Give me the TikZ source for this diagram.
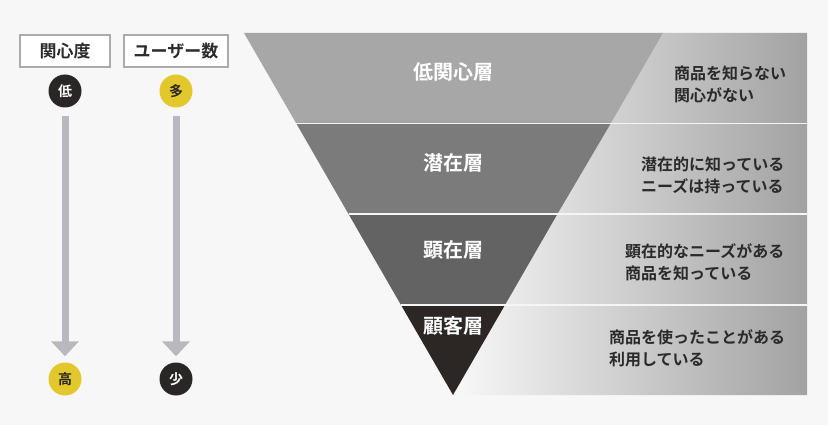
\documentclass[tikz,border=0pt]{standalone}
\usepackage{fontspec}
\setmainfont{Noto Sans CJK JP}[BoldFont = * Bold]
\usetikzlibrary{arrows.meta}
\definecolor{bg}{HTML}{F8F7F7}
\definecolor{bandA}{HTML}{A7A7A7}
\definecolor{bandB}{HTML}{7B7B7B}
\definecolor{bandC}{HTML}{636363}
\definecolor{bandD}{HTML}{2C2624}
\definecolor{gradL}{HTML}{F8F8F8}
\definecolor{gradR}{HTML}{A2A2A2}
\definecolor{ylw}{HTML}{E2C82C}
\definecolor{drk}{HTML}{2A2625}
\definecolor{arr}{HTML}{B8B8BE}
\definecolor{boxln}{HTML}{ABABAB}
\definecolor{txt}{HTML}{2A2A2A}
\tikzset{
  title/.style={font=\bfseries\fontsize{20}{24}\selectfont, text=white, inner sep=0pt},
  desc/.style={font=\bfseries\fontsize{16}{22}\selectfont, text=txt, align=left, anchor=west, inner sep=0pt},
  labelbox/.style={draw=boxln, line width=2pt, fill=white, font=\bfseries\fontsize{17}{20}\selectfont, text=txt, minimum height=32pt, inner sep=0pt},
  dot/.style={circle, minimum size=33pt, inner sep=0pt, font=\bfseries\fontsize{14}{16}\selectfont},
  ydot/.style={dot, fill=ylw, text=drk},
  ddot/.style={dot, fill=drk, text=white},
  flow/.style={draw=arr, line width=7pt, -{Triangle[width=27pt,length=15pt]}},
  sep/.style={draw=white!92!gray, line width=1.8pt}
}
\begin{document}
\begin{tikzpicture}[x=1pt,y=-1pt]
\fill[bg] (0,0) rectangle (828,425);
\useasboundingbox (0,0) rectangle (828,425);
% gradient panel
\shade[left color=gradL, right color=gradR] (663,33) -- (807,33) -- (807,395) -- (453,395) -- cycle;
% funnel bands
\fill[bandA] (244,33) -- (663,33) -- (611,123) -- (296,123) -- cycle;
\fill[bandB] (296,123) -- (611,123) -- (557.5,214) -- (348.5,214) -- cycle;
\fill[bandC] (348.5,214) -- (557.5,214) -- (505,305) -- (401,305) -- cycle;
\fill[bandD] (401,305) -- (505,305) -- (453,395) -- cycle;
% separators
\coordinate (s1l) at (296,123.5); \coordinate (s1r) at (807,123.5);
\coordinate (s2l) at (348.5,214); \coordinate (s2r) at (807,214);
\coordinate (s3l) at (401,305); \coordinate (s3r) at (807,305);
\draw[sep] (s1l) -- (s1r);
\draw[sep] (s2l) -- (s2r);
\draw[sep] (s3l) -- (s3r);
% titles
\node[title] (t1) at (453,72) {低関心層};
\node[title] (t2) at (453,163) {潜在層};
\node[title] (t3) at (453,250) {顕在層};
\node[title] (t4) at (453,326) {顧客層};
% descriptions
\node[desc] (d1) at (674,84) {商品を知らない\\関心がない};
\node[desc] (d2) at (641,175) {潜在的に知っている\\ニーズは持っている};
\node[desc] (d3) at (625,262) {顕在的なニーズがある\\商品を知っている};
\node[desc] (d4) at (609,348) {商品を使ったことがある\\利用している};
% left labels
\node[labelbox, minimum width=90pt] (b1) at (65,51) {関心度};
\node[labelbox, minimum width=104pt] (b2) at (176,51) {ユーザー数};
\node[ddot] (c1) at (65,91) {低};
\node[ydot] (c2) at (176,91) {多};
\node[ydot] (c3) at (65,379) {高};
\node[ddot] (c4) at (176,379) {少};
\draw[flow, shorten <=8pt, shorten >=6pt] (c1) -- (c3);
\draw[flow, shorten <=8pt, shorten >=6pt] (c2) -- (c4);
\end{tikzpicture}
\end{document}
